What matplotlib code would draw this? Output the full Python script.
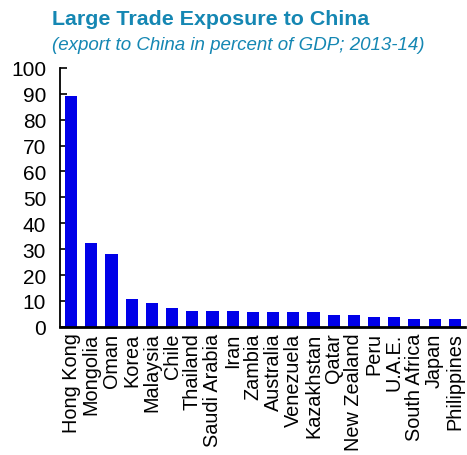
import matplotlib
matplotlib.use("Agg")
import matplotlib.pyplot as plt

countries = ["Hong Kong", "Mongolia", "Oman", "Korea", "Malaysia", "Chile",
             "Thailand", "Saudi Arabia", "Iran", "Zambia", "Australia",
             "Venezuela", "Kazakhstan", "Qatar", "New Zealand", "Peru",
             "U.A.E.", "South Africa", "Japan", "Philippines"]
exports = [89.2, 32.2, 28.0, 10.6, 9.1, 7.2, 6.3, 6.3, 6.3, 5.6, 5.6,
           5.6, 5.6, 4.5, 4.5, 3.7, 3.7, 3.0, 3.0, 3.0]
yticks = list(range(0, 101, 10))

plt.rcParams['font.family'] = ['Liberation Sans', 'DejaVu Sans']

fig = plt.figure(figsize=(4.67, 4.56), dpi=100)
ax = fig.add_axes([0.1285, 0.281, 0.867, 0.568])

x = range(len(countries))
ax.bar(x, exports, width=0.6, color="#0000E8", zorder=2)

ax.set_ylim(0, 100)
ax.set_xlim(-0.55, len(countries) - 0.5)
ax.set_yticks(yticks)
ax.set_yticklabels([str(v) for v in yticks], fontsize=15)
ax.set_xticks(list(x))
ax.set_xticklabels(countries, rotation=90, fontsize=14.3)
ax.tick_params(axis="x", length=0, pad=4)
ax.tick_params(axis="y", direction="in", length=5, width=1.2, pad=10)

for s in ["top", "right"]:
    ax.spines[s].set_visible(False)
ax.spines["left"].set_linewidth(1.3)
ax.spines["bottom"].set_linewidth(2.0)

fig.text(0.112, 0.958, "Large Trade Exposure to China", fontsize=15.4,
         fontweight="bold", color="#1587B3", va="center")
fig.text(0.112, 0.900, "(export to China in percent of GDP; 2013-14)",
         fontsize=13.5, style="italic", color="#1587B3", va="center")

fig.savefig("out.png", dpi=100)
